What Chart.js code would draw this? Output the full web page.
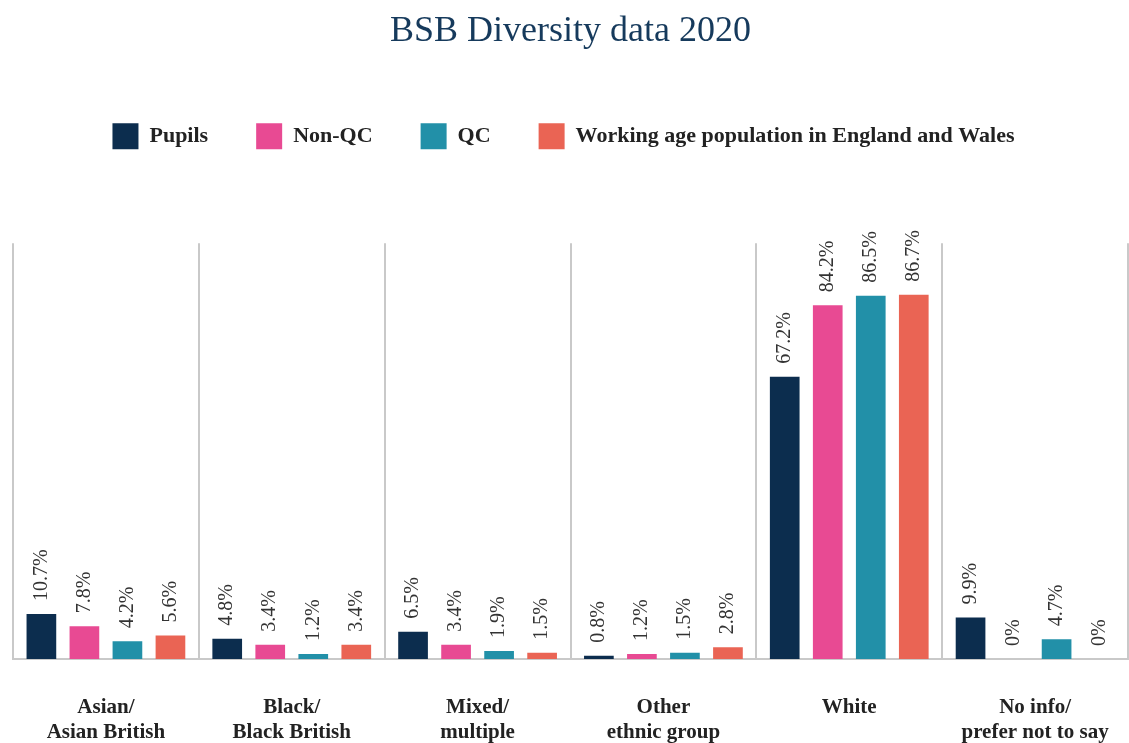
<!DOCTYPE html>
<html>
<head>
<meta charset="utf-8">
<title>BSB Diversity data 2020</title>
<script src="https://cdn.jsdelivr.net/npm/chart.js@4.4.1/dist/chart.umd.min.js"></script>
<style>
    html, body { margin: 0; padding: 0; background: #fff; }
    #wrap { width: 1129px; height: 743px; position: relative; }
</style>
</head>
<body>
<div id="wrap"><canvas id="diversity"></canvas></div>
<script>
// categorias (dos lineas cada una)
const categories = [
    ["Asian/", "Asian British"],
    ["Black/", "Black British"],
    ["Mixed/", "multiple"],
    ["Other", "ethnic group"],
    ["White"],
    ["No info/", "prefer not to say"],
];

const seriesNames = ["Pupils", "Non-QC", "QC", "Working age population in England and Wales"];

const pupils = [10.7, 4.8, 6.5, 0.8, 67.2, 9.9];
const nonQC = [7.8, 3.4, 3.4, 1.2, 84.2, 0];
const qc = [4.2, 1.2, 1.9, 1.5, 86.5, 4.7];
const workingAge = [5.6, 3.4, 1.5, 2.8, 86.7, 0];

const seriesColors = ["#0c2d4e", "#e84a93", "#2290a8", "#ea6454"];

const yMax = 99;
const serif = "'Liberation Serif', 'Times New Roman', serif";

// etiquetas rotadas encima de cada barra
const barLabels = {
    id: "barLabels",
    afterDatasetsDraw(chart) {
        const ctx = chart.ctx;
        ctx.save();
        ctx.font = "20px " + serif;
        ctx.fillStyle = "#333333";
        ctx.textAlign = "left";
        ctx.textBaseline = "middle";
        chart.data.datasets.forEach((ds, i) => {
            const meta = chart.getDatasetMeta(i);
            meta.data.forEach((bar, j) => {
                ctx.save();
                ctx.translate(bar.x, bar.y - 13);
                ctx.rotate(-Math.PI / 2);
                ctx.fillText(ds.data[j] + "%", 0, 0);
                ctx.restore();
            });
        });
        ctx.restore();
    },
};

// espacio extra debajo de la leyenda (y un pequeño corrimiento a la izquierda)
const legendGap = {
    id: "legendGap",
    beforeInit(chart) {
        const fit = chart.legend.fit;
        chart.legend.fit = function () {
            fit.bind(chart.legend)();
            this.height += 84;
        };
    },
    afterLayout(chart) {
        chart.legend.left -= 14;
    },
};

const ctx = document.getElementById("diversity").getContext("2d");

new Chart(ctx, {
    type: "bar",
    data: {
        labels: categories,
        datasets: [pupils, nonQC, qc, workingAge].map((values, i) => ({
            label: seriesNames[i],
            data: values,
            backgroundColor: seriesColors[i],
            borderWidth: 0,
            categoryPercentage: 0.926,
            barPercentage: 0.69,
        })),
    },
    options: {
        responsive: true,
        maintainAspectRatio: false,
        animation: false,
        layout: {
            padding: { left: 13, right: 1, top: 0, bottom: 0 },
        },
        plugins: {
            title: {
                display: true,
                text: "BSB Diversity data 2020",
                color: "#163a5c",
                font: { family: serif, size: 36, weight: "normal" },
                padding: { top: 10, bottom: 22 },
            },
            legend: {
                display: true,
                position: "top",
                labels: {
                    boxWidth: 26,
                    boxHeight: 26,
                    padding: 48,
                    color: "#222222",
                    font: { family: serif, size: 22, weight: "bold" },
                },
            },
            tooltip: { enabled: false },
        },
        scales: {
            x: {
                afterFit(axis) {
                    axis.height = 84;
                    axis.paddingLeft = 0;
                    axis.paddingRight = 0;
                },
                grid: {
                    display: true,
                    offset: true,
                    color: "#c9c9c9",
                    lineWidth: 2,
                    drawTicks: false,
                },
                border: { display: true, color: "#c9c9c9", width: 2 },
                ticks: {
                    color: "#222222",
                    padding: 36,
                    maxRotation: 0,
                    font: { family: serif, size: 21, weight: "bold", lineHeight: 1.2 },
                },
            },
            y: {
                display: false,
                min: 0,
                max: yMax,
            },
        },
    },
    plugins: [barLabels, legendGap],
});
</script>
</body>
</html>
